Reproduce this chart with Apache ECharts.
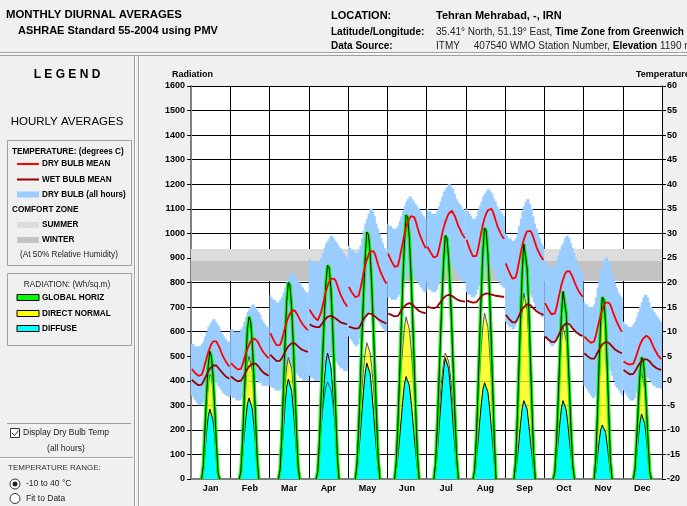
<!DOCTYPE html>
<html>
<head>
<meta charset="utf-8">
<script src="https://cdn.jsdelivr.net/npm/echarts@6/dist/echarts.min.js"></script>
<style>
  html, body { margin: 0; padding: 0; background: #f0f0f0; }
  #chart { width: 687px; height: 506px; }
</style>
</head>
<body>
<div id="chart"></div>
<script>
// ---- Categories and axis ranges ----
const months = ['Jan', 'Feb', 'Mar', 'Apr', 'May', 'Jun', 'Jul', 'Aug', 'Sep', 'Oct', 'Nov', 'Dec'];
const radiationRange = { min: 0, max: 1600, step: 100 };   // Wh/sq.m
const temperatureRange = { min: -20, max: 60, step: 5 };   // degrees C

// Comfort zone bands at 50% RH, degrees C [low, high]
const summerComfort = [22.5, 26.8];
const winterComfort = [20.3, 24.4];

// ---- Hourly averages (hour 0..23) for each month, degrees C ----
const dryBulbMean = [
  [2.4,2.0,1.6,1.3,1.0,0.8,1.2,2.1,3.4,4.6,5.8,6.7,7.5,8.0,8.2,8.0,7.6,6.7,5.8,5.0,4.4,3.8,3.3,2.9],
  [3.6,3.2,2.9,2.6,2.3,2.1,2.4,3.3,4.4,5.5,6.5,7.3,8.0,8.4,8.6,8.5,8.1,7.5,6.8,6.2,5.7,5.3,4.9,4.6],
  [9.7,9.0,8.3,7.7,7.2,6.9,7.3,8.3,9.5,10.8,12.0,12.9,13.7,14.2,14.4,14.3,13.9,13.2,12.5,11.9,11.4,11.0,10.6,10.3],
  [14.5,13.9,13.4,12.9,12.5,12.3,12.7,13.9,15.3,16.8,18.2,19.3,20.1,20.7,21.0,20.8,20.3,19.4,18.4,17.5,16.8,16.1,15.6,15.1],
  [19.1,18.5,17.9,17.5,17.0,16.8,17.3,18.6,20.2,21.9,23.5,24.6,25.6,26.3,26.6,26.4,25.8,24.7,23.5,22.5,21.7,21.0,20.3,19.8],
  [25.9,25.1,24.4,23.8,23.2,22.9,23.4,24.8,26.5,28.1,29.7,31.1,32.2,33.0,33.5,33.7,33.3,32.4,31.2,30.1,29.2,28.4,27.6,27.0],
  [27.3,26.7,26.1,25.6,25.1,24.9,25.4,26.6,28.2,29.8,31.2,32.3,33.2,34.0,34.4,34.6,34.2,33.4,32.4,31.5,30.8,30.1,29.5,29.0],
  [28.7,27.7,26.8,26.0,25.3,24.9,25.4,26.7,28.5,30.2,31.8,33.1,34.0,34.7,35.1,35.0,34.5,33.5,32.4,31.4,30.6,29.9,29.3,28.9],
  [23.9,23.0,22.2,21.5,20.8,20.5,21.0,22.3,24.1,25.8,27.4,28.7,29.7,30.4,30.7,30.5,30.0,29.0,28.0,27.0,26.3,25.6,25.0,24.6],
  [15.8,15.2,14.5,14.0,13.5,13.2,13.7,14.9,16.5,18.0,19.5,20.6,21.6,22.2,22.5,22.3,21.9,21.0,20.1,19.3,18.6,18.0,17.5,17.1],
  [9.0,8.6,8.3,8.0,7.7,7.6,8.0,9.1,10.6,12.0,13.4,14.4,15.3,15.9,16.1,15.9,15.4,14.5,13.5,12.7,11.9,11.2,10.5,10.0],
  [3.9,3.7,3.5,3.4,3.3,3.2,3.5,4.3,5.3,6.3,7.3,8.0,8.6,9.0,9.2,9.0,8.6,7.9,7.1,6.4,5.8,5.2,4.8,4.4]
];

const wetBulbMean = [
  [0.2,-0.1,-0.4,-0.6,-0.9,-1.0,-0.8,-0.2,0.5,1.2,1.9,2.4,2.8,3.1,3.2,3.1,2.8,2.3,1.9,1.5,1.1,0.8,0.6,0.4],
  [0.9,0.6,0.3,0.1,-0.1,-0.2,0.0,0.5,1.1,1.8,2.4,2.9,3.3,3.5,3.6,3.5,3.2,2.8,2.3,1.9,1.6,1.4,1.2,1.0],
  [5.3,5.0,4.6,4.3,4.0,3.9,4.1,4.6,5.2,5.9,6.5,7.0,7.4,7.6,7.7,7.6,7.4,7.0,6.7,6.4,6.2,6.1,6.0,5.9],
  [11.5,11.3,11.1,11.0,10.9,10.8,10.9,11.3,11.8,12.3,12.7,13.0,13.2,13.2,13.1,12.9,12.7,12.4,12.1,11.9,11.8,11.7,11.6,11.5],
  [11.0,10.9,10.8,10.7,10.6,10.5,10.7,11.2,11.9,12.5,13.0,13.4,13.7,13.7,13.6,13.4,13.1,12.8,12.5,12.3,12.1,12.0,11.8,11.7],
  [13.7,13.5,13.4,13.2,13.1,13.0,13.2,13.7,14.3,14.8,15.2,15.5,15.7,15.8,15.7,15.5,15.2,14.8,14.5,14.2,14.0,13.9,13.8,13.7],
  [15.1,15.0,14.9,14.9,14.8,14.8,15.0,15.5,16.0,16.5,16.9,17.2,17.4,17.5,17.5,17.3,17.1,16.8,16.6,16.4,16.3,16.2,16.1,16.1],
  [16.3,16.2,16.1,16.0,15.9,15.8,16.0,16.4,16.8,17.2,17.5,17.7,17.8,17.8,17.7,17.6,17.5,17.4,17.3,17.2,17.2,17.1,17.1,17.1],
  [13.4,13.0,12.6,12.2,11.9,11.7,11.9,12.5,13.2,13.9,14.5,15.0,15.4,15.6,15.6,15.4,15.1,14.7,14.4,14.1,13.9,13.7,13.5,13.4],
  [9.0,8.7,8.4,8.1,7.9,7.7,7.9,8.4,9.1,9.8,10.5,11.1,11.5,11.7,11.7,11.5,11.1,10.6,10.2,9.9,9.6,9.4,9.2,9.1],
  [5.6,5.3,5.0,4.7,4.5,4.3,4.5,5.0,5.7,6.3,6.9,7.4,7.7,7.9,7.9,7.7,7.4,7.0,6.6,6.3,6.1,5.9,5.7,5.6],
  [2.2,2.0,1.7,1.5,1.3,1.2,1.4,1.9,2.5,3.1,3.6,4.0,4.3,4.4,4.4,4.2,3.9,3.5,3.1,2.8,2.6,2.4,2.3,2.2]
];

// Range of dry bulb over all hours of the month (lowest / highest per hour)
const dryBulbLow = [
  [-3,-3.5,-4,-4.5,-5,-5,-5,-4.5,-3.5,-2.5,-1.5,-1,-0.5,-0.2,-0.2,-0.5,-1,-1.5,-2,-2.5,-2.8,-3,-3.2,-3.3],
  [-3,-3.5,-3.5,-4,-4,-4,-4,-3.5,-2.5,-1.5,-0.5,0,0.5,0.8,0.8,0.5,0,-0.5,-0.5,-1,-1,-1,-1,-1],
  [-1,-1.5,-1.5,-2,-2,-2,-2,-1.5,-1,0,1,1.5,2,2.5,2.5,2,1.5,1,0.5,0.5,0,0,0,0],
  [1,0.5,0.5,0,0,0,0,0.5,1.5,2.5,3.5,4,4.5,5,5,4.5,4,3.5,3,2.5,2.5,2,2,2],
  [9,8.5,8,7.5,7,7,7.5,8.5,10,11,12,13,13.5,14,14,13.5,13,12.5,12,11.5,11,10.5,10,10],
  [17,17,16.5,16.5,16.5,16.5,17,17.5,18.5,19.5,20.5,21,21.5,22,22,21.5,21,20.5,20,19.5,19,18.5,18,18],
  [19,18.5,18.5,18,18,18,18.5,19.5,20.5,21.5,22.5,23,23.5,24,24,23.5,23,22.5,22,21.5,21,20.5,20,20],
  [18,17.5,17.5,17,17,17,17.5,18.5,19.5,20.5,21.5,22.5,23,23.5,24,23.5,23,22,21,20.5,20,19.5,19,19],
  [12,11.5,11,11,10.5,10.5,11,12,13,14.5,15.5,16.5,17,17.5,18,17.5,17,16,15,14.5,14,13.5,13,13],
  [9,8.5,8,7.5,7,7,7.5,8,9,10,10.5,11,11.5,12,12,11.5,11,10.5,10,9.5,9.5,9,9,9],
  [-1,-1.5,-2,-2.5,-3,-3.5,-3.5,-3,-2,-0.5,1,2,3,4,4,3,2,1,0,-1,-1.5,-2,-2.5,-3],
  [-2,-2.5,-3,-3.5,-4,-4,-4,-3.5,-2.5,-1.5,-0.5,0,0.5,0.8,0.8,0.5,0,-0.5,-1,-1,-1.5,-1.5,-1.5,-1.7]
];

const dryBulbHigh = [
  [7.5,7.5,7,7,7,7,7.5,8,9,10,11,11.5,12,12.5,12.5,12,11.5,11,10,9.5,9,8.5,8,8],
  [10.5,10.5,10,10,10,10,10.5,11,12,13,14,14.5,15,15.5,15.5,15,14.5,14,13.5,12.5,12,11.5,11,11],
  [17.5,17,16.5,16.5,16,16,16.5,17,18,19,20,21,21.5,22,22,21.5,21,20.5,20,19.5,19,18.5,18,18],
  [25,24.5,24.5,24,24,24,24.5,25,26,27,28,28.5,29,29.5,29.5,29,28.5,28,27.5,27,26.5,26,25.5,25],
  [27.5,27,26.5,26.5,26,26,26.5,27.5,29,30.5,32,33,34,35,35,34.5,33.5,32,31,30,29,28,27,26.5],
  [32,31.5,31.5,31,31,31,31.5,32.5,33.5,34.5,35.5,36.5,37,37.5,37.5,37,36.5,36,35.5,35,34.5,34,33.5,33],
  [35,34.5,34.5,34,34,34,34.5,35.5,36.5,37.5,38.5,39,39.5,40,40,39.5,39,38,37,36.5,36,35.5,35,34.5],
  [35,34.5,34,33.5,33,33,33.5,34.5,35.5,36.5,37.5,38,38.5,39,39,38.5,38,37,36.5,35.5,35,34.5,34,33.5],
  [30,29.5,29,29,28.5,28.5,29,30,31.5,33,34.5,35.5,36.5,37,37,36,35,33.5,32,31,30,29,28,27.5],
  [24.5,24,23.5,23.5,23,23,23.5,24.5,25.5,26.5,27.5,28,29,29.5,29.5,29,28,27,26,25,24,23,22.5,22],
  [16,15.5,15.5,15,15,15,15.5,17,19,21,22.5,23.5,24.5,25,25,24.5,23.5,22,21,20,19,18,17.5,17],
  [12,11.5,11.5,11,11,11,11.5,12,13,14,15,16,17,17.5,17.5,17,16,15,14.5,14,13.5,13,12.5,12]
];

// ---- Hourly averages (hour 0..23) for each month, Wh/sq.m ----
const globalHoriz = [
  [0,0,0,0,0,0,0,52,198,343,458,520,499,416,291,146,26,0,0,0,0,0,0,0],
  [0,0,0,0,0,0,30,150,320,480,610,660,640,550,410,240,80,0,0,0,0,0,0,0],
  [0,0,0,0,0,0,40,170,360,550,720,800,790,700,560,380,200,50,0,0,0,0,0,0],
  [0,0,0,0,0,30,150,320,500,660,800,870,860,780,640,460,270,90,0,0,0,0,0,0],
  [0,0,0,0,0,60,200,380,570,750,900,1005,995,920,790,620,430,240,80,0,0,0,0,0],
  [0,0,0,0,0,70,220,410,610,800,960,1075,1065,980,840,660,460,260,90,0,0,0,0,0],
  [0,0,0,0,0,60,200,380,560,740,890,991,980,900,770,610,420,240,80,0,0,0,0,0],
  [0,0,0,0,0,40,170,360,560,760,930,1022,1010,920,770,580,370,150,0,0,0,0,0,0],
  [0,0,0,0,0,0,70,240,450,650,840,957,950,860,700,500,290,100,0,0,0,0,0,0],
  [0,0,0,0,0,0,30,150,320,500,670,763,755,670,520,350,180,50,0,0,0,0,0,0],
  [0,0,0,0,0,0,0,80,260,460,640,740,730,630,460,260,70,0,0,0,0,0,0,0],
  [0,0,0,0,0,0,0,40,160,300,430,495,485,410,290,150,30,0,0,0,0,0,0,0]
];

const directNormal = [
  [0,0,0,0,0,0,0,45,170,290,380,425,415,355,255,130,20,0,0,0,0,0,0,0],
  [0,0,0,0,0,0,25,130,270,390,470,500,495,440,340,210,70,0,0,0,0,0,0,0],
  [0,0,0,0,0,0,35,150,280,380,455,495,490,450,380,280,160,40,0,0,0,0,0,0],
  [0,0,0,0,0,25,120,210,280,335,375,395,390,365,320,260,180,70,0,0,0,0,0,0],
  [0,0,0,0,0,50,170,280,370,450,515,555,550,515,455,380,290,190,65,0,0,0,0,0],
  [0,0,0,0,0,60,200,340,450,540,615,660,655,610,540,450,350,230,80,0,0,0,0,0],
  [0,0,0,0,0,50,160,260,350,420,480,513,510,480,430,360,280,180,65,0,0,0,0,0],
  [0,0,0,0,0,35,150,300,430,540,625,676,670,620,530,420,290,130,0,0,0,0,0,0],
  [0,0,0,0,0,0,60,220,400,560,690,757,750,690,580,430,260,90,0,0,0,0,0,0],
  [0,0,0,0,0,0,25,140,290,430,560,620,615,560,450,310,165,45,0,0,0,0,0,0],
  [0,0,0,0,0,0,0,70,250,450,620,722,712,610,445,250,60,0,0,0,0,0,0,0],
  [0,0,0,0,0,0,0,35,145,270,385,437,430,365,260,135,25,0,0,0,0,0,0,0]
];

const diffuse = [
  [0,0,0,0,0,0,0,25,105,190,255,285,280,240,170,85,15,0,0,0,0,0,0,0],
  [0,0,0,0,0,0,20,90,170,245,305,330,325,285,215,135,45,0,0,0,0,0,0,0],
  [0,0,0,0,0,0,25,100,200,300,375,407,400,360,290,200,110,30,0,0,0,0,0,0],
  [0,0,0,0,0,25,100,200,300,400,475,513,505,460,380,280,170,60,0,0,0,0,0,0],
  [0,0,0,0,0,30,100,180,270,360,430,472,468,430,360,280,190,110,40,0,0,0,0,0],
  [0,0,0,0,0,30,90,160,240,320,385,417,412,380,320,250,170,100,35,0,0,0,0,0],
  [0,0,0,0,0,30,100,190,280,370,450,493,488,450,380,295,200,115,40,0,0,0,0,0],
  [0,0,0,0,0,20,80,150,230,305,365,392,388,355,295,220,140,60,0,0,0,0,0,0],
  [0,0,0,0,0,0,25,80,150,225,290,319,316,285,225,160,95,35,0,0,0,0,0,0],
  [0,0,0,0,0,0,20,80,150,225,290,319,315,280,220,150,85,25,0,0,0,0,0,0],
  [0,0,0,0,0,0,0,25,85,150,200,220,218,190,140,80,20,0,0,0,0,0,0,0],
  [0,0,0,0,0,0,0,20,90,165,230,265,260,225,160,85,15,0,0,0,0,0,0,0]
];

// ---- Building series data: each month spans 24 units on a hidden hour axis ----
const HOURS = 24;
const hourX = (m, h) => m * HOURS + h + 0.5;

function lineData(table) {
  const out = [];
  table.forEach((day, m) => {
    day.forEach((v, h) => out.push([hourX(m, h), v]));
    out.push([m * HOURS + HOURS, null]);            // break between months
  });
  return out;
}

function humpData(table) {
  const out = [];
  table.forEach((day, m) => {
    let first = -1, last = -1;
    day.forEach((v, h) => { if (v > 0) { if (first < 0) first = h; last = h; } });
    for (let h = Math.max(0, first - 1); h <= Math.min(HOURS - 1, last + 1); h++) {
      out.push([hourX(m, h), day[h]]);
    }
    out.push([m * HOURS + HOURS, null]);
  });
  return out;
}

const FONT = "'Liberation Sans', Arial, sans-serif";

// Dry bulb (all hours) band: one stepped polygon per month
function renderBand(params, api) {
  const m = api.value(0);
  const lo = dryBulbLow[m], hi = dryBulbHigh[m];
  const pts = [];
  for (let h = 0; h < HOURS; h++) {
    pts.push(api.coord([m * HOURS + h, hi[h]]));
    pts.push(api.coord([m * HOURS + h + 1, hi[h]]));
  }
  for (let h = HOURS - 1; h >= 0; h--) {
    pts.push(api.coord([m * HOURS + h + 1, lo[h]]));
    pts.push(api.coord([m * HOURS + h, lo[h]]));
  }
  return { type: 'polygon', shape: { points: pts }, style: { fill: '#99ccff' } };
}

const comfortFill = ['#dcdcdc', '#c3c3c3'];
function renderComfort(params, api) {
  const a = api.coord([0, api.value(1)]);
  const b = api.coord([months.length * HOURS, api.value(0)]);
  return {
    type: 'rect',
    shape: { x: a[0], y: a[1], width: b[0] - a[0], height: b[1] - a[1] },
    style: { fill: comfortFill[params.dataIndex] }
  };
}

// ---- Page furniture (header, legend panel) ----
function text(x, y, str, size, weight, color, align) {
  return {
    type: 'text', x: x, y: y, silent: true,
    style: {
      text: str, fontFamily: FONT, fontSize: size, fontWeight: weight || 'normal',
      fill: color || '#000', align: align || 'left', verticalAlign: 'middle'
    }
  };
}
function hline(x1, x2, y, color) {
  return { type: 'line', silent: true, shape: { x1: x1, y1: y, x2: x2, y2: y }, style: { stroke: color, lineWidth: 1 } };
}
function vline(x, y1, y2, color) {
  return { type: 'line', silent: true, shape: { x1: x, y1: y1, x2: x, y2: y2 }, style: { stroke: color, lineWidth: 1 } };
}
function swatchLine(y, color) {
  return { type: 'line', silent: true, shape: { x1: 17, y1: y, x2: 39, y2: y }, style: { stroke: color, lineWidth: 2 } };
}
function swatchRect(y, h, fill, stroke) {
  return { type: 'rect', silent: true, shape: { x: 17, y: y, width: 22, height: h },
    style: { fill: fill, stroke: stroke || null, lineWidth: 1 } };
}

const graphics = [
  // header
  text(6, 15, 'MONTHLY DIURNAL AVERAGES', 11.4, 'bold'),
  text(18, 31, 'ASHRAE Standard 55-2004 using PMV', 11, 'bold'),
  text(331, 16, 'LOCATION:', 11, 'bold'),
  text(436, 16, 'Tehran Mehrabad, -, IRN', 11, 'bold'),
  text(331, 32, 'Latitude/Longitude:', 10, 'bold'),
  {
    type: 'text', x: 436, y: 32, silent: true,
    style: {
      text: '{n|35.41° North, 51.19° East, }{b|Time Zone from Greenwich}',
      verticalAlign: 'middle',
      rich: {
        n: { fontFamily: FONT, fontSize: 10, fill: '#222' },
        b: { fontFamily: FONT, fontSize: 10, fontWeight: 'bold', fill: '#000' }
      }
    }
  },
  text(331, 46, 'Data Source:', 10, 'bold'),
  {
    type: 'text', x: 436, y: 46, silent: true,
    style: {
      text: '{n|ITMY     407540 WMO Station Number, }{b|Elevation}{n| 1190 m}',
      verticalAlign: 'middle',
      rich: {
        n: { fontFamily: FONT, fontSize: 10, fill: '#222' },
        b: { fontFamily: FONT, fontSize: 10, fontWeight: 'bold', fill: '#000' }
      }
    }
  },
  // separators
  hline(0, 687, 52.5, '#a0a0a0'),
  hline(0, 687, 53.5, '#ffffff'),
  hline(0, 687, 55.5, '#a0a0a0'),
  vline(134.5, 56, 506, '#a0a0a0'),
  vline(135.5, 56, 506, '#ffffff'),
  vline(138.5, 56, 506, '#a0a0a0'),
  vline(139.5, 56, 506, '#ffffff'),

  // legend panel
  text(67, 75, 'L E G E N D', 12, 'bold', '#000', 'center'),
  text(67, 122, 'HOURLY AVERAGES', 11.5, 'normal', '#000', 'center'),
  { type: 'rect', silent: true, shape: { x: 7.5, y: 140.5, width: 124, height: 125 }, style: { fill: null, stroke: '#a0a0a0' } },
  text(12, 152, 'TEMPERATURE: (degrees C)', 8.2, 'bold'),
  swatchLine(164, '#ff0000'),
  text(42, 164, 'DRY BULB MEAN', 8.2, 'bold'),
  swatchLine(179.5, '#990000'),
  text(42, 179.5, 'WET BULB MEAN', 8.2, 'bold'),
  swatchRect(191.5, 6, '#99ccff'),
  text(42, 195, 'DRY BULB (all hours)', 8.2, 'bold'),
  text(12, 210, 'COMFORT ZONE', 8.2, 'bold'),
  swatchRect(222, 6, '#dcdcdc'),
  text(42, 225, 'SUMMER', 8.2, 'bold'),
  swatchRect(237, 6, '#c3c3c3'),
  text(42, 240, 'WINTER', 8.2, 'bold'),
  text(69, 255, '(At 50% Relative Humidity)', 8.2, 'normal', '#222', 'center'),

  { type: 'rect', silent: true, shape: { x: 7.5, y: 273.5, width: 124, height: 72 }, style: { fill: null, stroke: '#a0a0a0' } },
  text(67, 285, 'RADIATION: (Wh/sq.m)', 8.2, 'normal', '#222', 'center'),
  swatchRect(294.5, 6, '#00ff00', '#000'),
  text(42, 298, 'GLOBAL HORIZ', 8.2, 'bold'),
  swatchRect(310.5, 6, '#ffff00', '#000'),
  text(42, 313.5, 'DIRECT NORMAL', 8.2, 'bold'),
  swatchRect(325.5, 6, '#00ffff', '#000'),
  text(42, 329, 'DIFFUSE', 8.2, 'bold'),

  // display options
  hline(7, 131, 423.5, '#a0a0a0'),
  { type: 'rect', silent: true, shape: { x: 10.5, y: 428.5, width: 9, height: 9 }, style: { fill: '#fff', stroke: '#333' } },
  { type: 'polyline', silent: true, shape: { points: [[12, 433], [14.5, 435.5], [18.5, 430.5]] }, style: { stroke: '#333', lineWidth: 1, fill: null } },
  text(23, 433, 'Display Dry Bulb Temp', 8.5, 'normal', '#222'),
  text(66, 449, '(all hours)', 8.5, 'normal', '#222', 'center'),
  hline(0, 133, 457.5, '#a0a0a0'),
  hline(0, 133, 458.5, '#ffffff'),
  text(8, 468, 'TEMPERATURE RANGE:', 8, 'normal', '#333'),
  { type: 'circle', silent: true, shape: { cx: 15, cy: 484, r: 5 }, style: { fill: '#fff', stroke: '#333' } },
  { type: 'circle', silent: true, shape: { cx: 15, cy: 484, r: 2.5 }, style: { fill: '#222' } },
  text(26, 484, '-10 to 40 °C', 8.5, 'normal', '#222'),
  { type: 'circle', silent: true, shape: { cx: 15, cy: 498.5, r: 5 }, style: { fill: '#fff', stroke: '#333' } },
  text(26, 498.5, 'Fit to Data', 8.5, 'normal', '#222'),

  // axis titles
  text(172, 75, 'Radiation', 9, 'bold'),
  text(636, 75, 'Temperature', 9, 'bold')
];

const chart = echarts.init(document.getElementById('chart'), null, { renderer: 'canvas' });

const plainNumber = (v) => String(v);

chart.setOption({
  animation: false,
  backgroundColor: '#f0f0f0',
  grid: { left: 191, top: 86, width: 471, height: 393, show: true, backgroundColor: '#ffffff', borderWidth: 0 },
  xAxis: [
    {
      type: 'category', data: months, boundaryGap: true, position: 'bottom',
      axisLine: { show: true, lineStyle: { color: '#808080', width: 2 } },
      axisTick: { show: false },
      axisLabel: { interval: 0, margin: 5, fontFamily: FONT, fontSize: 9, fontWeight: 'bold', color: '#000' },
      splitLine: { show: true, interval: 0, lineStyle: { color: '#000', width: 1 } }
    },
    { type: 'value', min: 0, max: months.length * HOURS, show: false }
  ],
  yAxis: [
    {
      type: 'value', position: 'left',
      min: radiationRange.min, max: radiationRange.max, interval: radiationRange.step,
      axisLine: { show: true, lineStyle: { color: '#808080', width: 2 } },
      axisTick: { show: true, length: 4, lineStyle: { color: '#000' } },
      axisLabel: { margin: 6, fontFamily: FONT, fontSize: 9, fontWeight: 'bold', color: '#000', formatter: plainNumber },
      splitLine: { show: true, lineStyle: { color: '#000', width: 1 } }
    },
    {
      type: 'value', position: 'right',
      min: temperatureRange.min, max: temperatureRange.max, interval: temperatureRange.step,
      axisLine: { show: true, lineStyle: { color: '#000', width: 1 } },
      axisTick: { show: true, length: 4, lineStyle: { color: '#000' } },
      axisLabel: { margin: 5, fontFamily: FONT, fontSize: 9, fontWeight: 'bold', color: '#000', formatter: plainNumber },
      splitLine: { show: false }
    }
  ],
  graphic: graphics,
  series: [
    {
      name: 'Comfort zone', type: 'custom', xAxisIndex: 1, yAxisIndex: 1, silent: true,
      renderItem: renderComfort, data: [summerComfort, winterComfort]
    },
    {
      name: 'DRY BULB (all hours)', type: 'custom', xAxisIndex: 1, yAxisIndex: 1, silent: true,
      renderItem: renderBand, data: months.map((_, m) => [m])
    },
    {
      name: 'DIRECT NORMAL fill', type: 'line', xAxisIndex: 1, yAxisIndex: 0, symbol: 'none', silent: true,
      data: humpData(directNormal), lineStyle: { width: 0 }, areaStyle: { color: 'rgba(255,255,0,0.78)', opacity: 1 }
    },
    {
      name: 'DIFFUSE', type: 'line', xAxisIndex: 1, yAxisIndex: 0, symbol: 'none', silent: true,
      data: humpData(diffuse), lineStyle: { color: '#000', width: 1 }, areaStyle: { color: '#00ffff', opacity: 1 }
    },
    {
      name: 'DIRECT NORMAL', type: 'line', xAxisIndex: 1, yAxisIndex: 0, symbol: 'none', silent: true,
      data: humpData(directNormal), lineStyle: { color: '#555', width: 1 }
    },
    {
      name: 'GLOBAL HORIZ', type: 'line', xAxisIndex: 1, yAxisIndex: 0, symbol: 'none', silent: true,
      data: humpData(globalHoriz), lineStyle: { color: '#00ff00', width: 3.5 }
    },
    {
      name: 'GLOBAL HORIZ core', type: 'line', xAxisIndex: 1, yAxisIndex: 0, symbol: 'none', silent: true,
      data: humpData(globalHoriz), lineStyle: { color: '#000', width: 1 }
    },
    {
      name: 'WET BULB MEAN', type: 'line', xAxisIndex: 1, yAxisIndex: 1, symbol: 'none', silent: true,
      data: lineData(wetBulbMean), lineStyle: { color: '#990000', width: 1.8 }
    },
    {
      name: 'DRY BULB MEAN', type: 'line', xAxisIndex: 1, yAxisIndex: 1, symbol: 'none', silent: true,
      data: lineData(dryBulbMean), lineStyle: { color: '#ff0000', width: 1.8 }
    }
  ]
});
</script>
</body>
</html>
